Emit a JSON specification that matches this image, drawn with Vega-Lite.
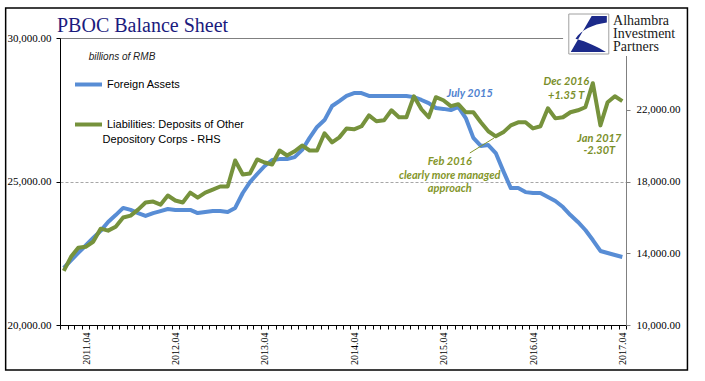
{
  "$schema": "https://vega.github.io/schema/vega-lite/v6.json",
  "width": 566,
  "height": 287,
  "autosize": {"type": "none"},
  "padding": {"left": 60, "top": 38, "right": 79, "bottom": 56},
  "background": "white",
  "title": {"text": "PBOC Balance Sheet", "anchor": "start", "frame": "group", "font": "Liberation Serif", "fontSize": 20, "fontWeight": "normal", "color": "#1B1B7E", "baseline": "alphabetic", "offset": -24, "dx": -3, "dy": 21},
  "config": {"view": {"stroke": "#808080", "strokeWidth": 1}},
  "data": {"values": [
    {"month":"2011-01","fa":21990,"dep":13020},{"month":"2011-02","fa":22250,"dep":13800},{"month":"2011-03","fa":22510,"dep":14310},{"month":"2011-04","fa":22770,"dep":14360},
    {"month":"2011-05","fa":23030,"dep":14640},{"month":"2011-06","fa":23280,"dep":15370},{"month":"2011-07","fa":23590,"dep":15260},{"month":"2011-08","fa":23830,"dep":15480},
    {"month":"2011-09","fa":24080,"dep":15990},{"month":"2011-10","fa":24010,"dep":16100},{"month":"2011-11","fa":23900,"dep":16430},{"month":"2011-12","fa":23800,"dep":16830},
    {"month":"2012-01","fa":23900,"dep":16880},{"month":"2012-02","fa":23970,"dep":16710},{"month":"2012-03","fa":24040,"dep":17220},{"month":"2012-04","fa":24010,"dep":16940},
    {"month":"2012-05","fa":24010,"dep":16830},{"month":"2012-06","fa":24010,"dep":17380},{"month":"2012-07","fa":23900,"dep":17100},{"month":"2012-08","fa":23940,"dep":17380},
    {"month":"2012-09","fa":23970,"dep":17550},{"month":"2012-10","fa":23970,"dep":17720},{"month":"2012-11","fa":23940,"dep":17720},{"month":"2012-12","fa":24080,"dep":19170},
    {"month":"2013-01","fa":24600,"dep":18390},{"month":"2013-02","fa":24980,"dep":18450},{"month":"2013-03","fa":25260,"dep":19230},{"month":"2013-04","fa":25540,"dep":19060},
    {"month":"2013-05","fa":25750,"dep":18950},{"month":"2013-06","fa":25780,"dep":19730},{"month":"2013-07","fa":25780,"dep":19450},{"month":"2013-08","fa":25850,"dep":19680},
    {"month":"2013-09","fa":26100,"dep":20010},{"month":"2013-10","fa":26520,"dep":19730},{"month":"2013-11","fa":26900,"dep":19730},{"month":"2013-12","fa":27140,"dep":20690},
    {"month":"2014-01","fa":27630,"dep":20180},{"month":"2014-02","fa":27800,"dep":20460},{"month":"2014-03","fa":27980,"dep":20960},{"month":"2014-04","fa":28080,"dep":20910},
    {"month":"2014-05","fa":28080,"dep":21080},{"month":"2014-06","fa":27980,"dep":21690},{"month":"2014-07","fa":27980,"dep":21360},{"month":"2014-08","fa":27980,"dep":21410},
    {"month":"2014-09","fa":27980,"dep":21970},{"month":"2014-10","fa":27980,"dep":21580},{"month":"2014-11","fa":27980,"dep":21580},{"month":"2014-12","fa":27940,"dep":22750},
    {"month":"2015-01","fa":27840,"dep":22030},{"month":"2015-02","fa":27730,"dep":21580},{"month":"2015-03","fa":27560,"dep":22700},{"month":"2015-04","fa":27530,"dep":22530},
    {"month":"2015-05","fa":27490,"dep":22200},{"month":"2015-06","fa":27600,"dep":22310},{"month":"2015-07","fa":27210,"dep":21860},{"month":"2015-08","fa":26520,"dep":21860},
    {"month":"2015-09","fa":26240,"dep":21300},{"month":"2015-10","fa":26270,"dep":20800},{"month":"2015-11","fa":25990,"dep":20520},{"month":"2015-12","fa":25370,"dep":20740},
    {"month":"2016-01","fa":24770,"dep":21130},{"month":"2016-02","fa":24770,"dep":21300},{"month":"2016-03","fa":24630,"dep":21300},{"month":"2016-04","fa":24600,"dep":20960},
    {"month":"2016-05","fa":24600,"dep":21080},{"month":"2016-06","fa":24460,"dep":22080},{"month":"2016-07","fa":24320,"dep":21520},{"month":"2016-08","fa":24110,"dep":21580},
    {"month":"2016-09","fa":23830,"dep":21860},{"month":"2016-10","fa":23590,"dep":21970},{"month":"2016-11","fa":23310,"dep":22140},{"month":"2016-12","fa":22960,"dep":23480},
    {"month":"2017-01","fa":22580,"dep":21130},{"month":"2017-02","fa":22510,"dep":22420},{"month":"2017-03","fa":22440,"dep":22750},{"month":"2017-04","fa":22370,"dep":22480}
  ]},
  "layer": [
    {
      "layer": [
        {
          "mark": {"type": "line", "strokeWidth": 4, "strokeJoin": "round"},
          "encoding": {
            "x": {"field": "month", "timeUnit": "yearmonth", "type": "temporal", "bandPosition": 0.5,
              "scale": {"domain": [{"year": 2011, "month": 1, "date": 1}, {"year": 2017, "month": 5, "date": 1}]},
              "axis": {"title": null, "tickCount": {"interval": "month", "step": 1},
                "labelExpr": "month(datum.value) == 3 ? timeFormat(datum.value, '%Y.%m') : ''",
                "labelAngle": 270, "labelAlign": "right", "labelBaseline": "middle", "labelOffset": 4, "labelPadding": 3,
                "labelFont": "Liberation Serif", "labelFontSize": 10, "labelColor": "#000", "labelOverlap": false, "labelFlush": false,
                "tickColor": "#000", "tickSize": 4, "domainColor": "#000", "grid": false}},
            "y": {"field": "fa", "type": "quantitative",
              "scale": {"domain": [20000, 30000], "nice": false, "zero": false},
              "axis": {"title": null, "values": [20000, 25000, 30000], "format": ",.2f",
                "grid": true, "gridColor": "#A6A6A6", "gridDash": [3, 2],
                "gridOpacity": {"condition": {"test": "datum.value === 25000", "value": 1}, "value": 0},
                "domainColor": "#000", "tickColor": "#000", "tickSize": 4, "labelFlush": false,
                "labelFont": "Liberation Serif", "labelFontSize": 11, "labelColor": "#000", "labelPadding": 5}},
            "color": {"datum": "Foreign Assets", "type": "nominal",
              "scale": {"domain": ["Foreign Assets", "Liabilities: Deposits of Other Depository Corps - RHS"], "range": ["#588DD5", "#76923C"]},
              "legend": {"orient": "none", "legendX": 13, "legendY": 31, "title": null, "symbolType": "stroke", "symbolSize": 729,
                "symbolStrokeWidth": 4, "labelFont": "Liberation Sans", "labelFontSize": 11, "labelColor": "#000", "labelLimit": 300,
                "labelOffset": 3, "rowPadding": 16, "padding": 0,
                "labelExpr": "datum.label == 'Foreign Assets' ? datum.label : 'Liabilities: Deposits of Other'"}}
          }
        },
        {
          "data": {"values": [{}]},
          "mark": {"type": "text", "text": "Depository Corps - RHS", "font": "Liberation Sans", "fontSize": 11, "color": "#000", "align": "left", "baseline": "middle"},
          "encoding": {"x": {"datum": {"year": 2011, "month": 6, "date": 24}, "type": "temporal"}, "y": {"datum": 26446, "type": "quantitative"}}
        },
        {
          "data": {"values": [{}]},
          "mark": {"type": "text", "text": "July 2015", "font": "Lato", "fontSize": 11, "fontStyle": "italic", "fontWeight": "bold", "color": "#4F82D0", "align": "center", "baseline": "middle"},
          "encoding": {"x": {"datum": {"year": 2015, "month": 8, "date": 2}, "type": "temporal"}, "y": {"datum": 28050, "type": "quantitative"}}
        },
        {
          "data": {"values": [{}]},
          "mark": {"type": "text", "text": "billions of RMB", "font": "Liberation Sans", "fontSize": 10, "fontStyle": "italic", "color": "#222", "align": "left", "baseline": "middle"},
          "encoding": {"x": {"datum": {"year": 2011, "month": 4, "date": 28}, "type": "temporal"}, "y": {"datum": 29340, "type": "quantitative"}}
        },
        {
          "data": {"values": [{}]},
          "mark": {"type": "rect", "color": "white"},
          "encoding": {"x": {"datum": {"year": 2016, "month": 8, "date": 17}, "type": "temporal"}, "x2": {"datum": {"year": 2017, "month": 12, "date": 20}},
            "y": {"datum": 30940, "type": "quantitative"}, "y2": {"datum": 29373}}
        },
        {
          "data": {"values": [{}]},
          "mark": {"type": "point", "shape": "square", "size": 1600, "filled": true, "fill": "white", "stroke": "#A0A0A0", "strokeWidth": 1, "opacity": 1},
          "encoding": {"x": {"datum": {"year": 2016, "month": 11, "date": 30}, "type": "temporal"}, "y": {"datum": 30139, "type": "quantitative"}}
        },
        {
          "data": {"values": [{}]},
          "mark": {"type": "point", "shape": "M 0.15,-0.95 L 0.95,-0.95 L 0.95,-0.6 C 0.2,-0.5 -0.4,-0.2 -0.7,0.25 C -0.1,0.4 0.5,0.7 0.9,0.95 L -0.95,0.95 Z", "size": 1444, "filled": true, "color": "#1C2A8A", "strokeWidth": 0, "opacity": 1},
          "encoding": {"x": {"datum": {"year": 2016, "month": 11, "date": 30}, "type": "temporal"}, "y": {"datum": 30139, "type": "quantitative"}}
        },
        {
          "data": {"values": [{}]},
          "mark": {"type": "text", "text": "Alhambra|Investment|Partners", "lineBreak": "|", "lineHeight": 13, "font": "Liberation Serif", "fontSize": 14, "color": "#1a1a1a", "align": "left", "baseline": "alphabetic"},
          "encoding": {"x": {"datum": {"year": 2017, "month": 3, "date": 9}, "type": "temporal"}, "y": {"datum": 30453, "type": "quantitative"}}
        },
        {
          "data": {"values": [{}]},
          "mark": {"type": "rect", "filled": false, "color": "#000", "strokeWidth": 1.5},
          "encoding": {"x": {"datum": {"year": 2010, "month": 5, "date": 24}, "type": "temporal"}, "x2": {"datum": {"year": 2018, "month": 1, "date": 7}},
            "y": {"datum": 31045, "type": "quantitative"}, "y2": {"datum": 18432}}
        }
      ]
    },
    {
      "layer": [
        {
          "mark": {"type": "line", "strokeWidth": 4, "strokeJoin": "round"},
          "encoding": {
            "x": {"field": "month", "timeUnit": "yearmonth", "type": "temporal", "bandPosition": 0.5},
            "y": {"field": "dep", "type": "quantitative",
              "scale": {"domain": [10000, 26000], "nice": false, "zero": false},
              "axis": {"title": null, "orient": "right", "values": [10000, 14000, 18000, 22000], "format": ",.2f", "grid": false,
                "domainColor": "#808080", "tickColor": "#808080", "tickSize": 4, "labelFlush": false,
                "labelFont": "Liberation Serif", "labelFontSize": 11, "labelColor": "#000", "labelPadding": 6}},
            "color": {"datum": "Liabilities: Deposits of Other Depository Corps - RHS", "type": "nominal"}
          }
        },
        {
          "data": {"values": [{}]},
          "mark": {"type": "rule", "color": "#84962A", "strokeWidth": 1},
          "encoding": {"x": {"datum": {"year": 2015, "month": 8, "date": 2}, "type": "temporal"}, "x2": {"datum": {"year": 2015, "month": 11, "date": 9}},
            "y": {"datum": 19589, "type": "quantitative"}, "y2": {"datum": 20425}}
        },
        {
          "data": {"values": [{}]},
          "mark": {"type": "text", "text": "Feb 2016|clearly more managed|approach", "lineBreak": "|", "lineHeight": 13.5, "font": "Lato", "fontSize": 11, "fontStyle": "italic", "fontWeight": "bold", "color": "#84962A", "align": "center", "baseline": "middle"},
          "encoding": {"x": {"datum": {"year": 2015, "month": 5, "date": 12}, "type": "temporal"}, "y": {"datum": 19087, "type": "quantitative"}}
        },
        {
          "data": {"values": [{}]},
          "mark": {"type": "text", "text": "Dec 2016|+1.35 T", "lineBreak": "|", "lineHeight": 14, "font": "Lato", "fontSize": 11, "fontStyle": "italic", "fontWeight": "bold", "color": "#7B8F2A", "align": "center", "baseline": "middle"},
          "encoding": {"x": {"datum": {"year": 2016, "month": 8, "date": 30}, "type": "temporal"}, "y": {"datum": 23547, "type": "quantitative"}}
        },
        {
          "data": {"values": [{}]},
          "mark": {"type": "text", "text": "Jan 2017|-2.30T", "lineBreak": "|", "lineHeight": 12, "font": "Lato", "fontSize": 11, "fontStyle": "italic", "fontWeight": "bold", "color": "#7B8F2A", "align": "center", "baseline": "middle"},
          "encoding": {"x": {"datum": {"year": 2017, "month": 1, "date": 12}, "type": "temporal"}, "y": {"datum": 20369, "type": "quantitative"}}
        }
      ]
    }
  ],
  "resolve": {"scale": {"y": "independent"}}
}
